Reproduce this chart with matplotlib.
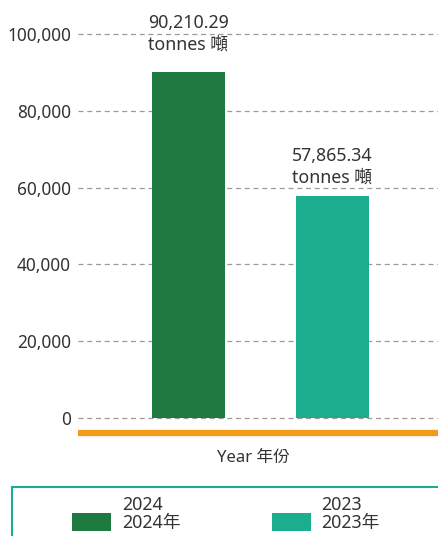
import matplotlib.pyplot as plt
from matplotlib.patches import Rectangle
from matplotlib.legend_handler import HandlerPatch
from matplotlib.ticker import FuncFormatter

plt.rcParams['font.family'] = ['Noto Sans', 'Noto Sans CJK TC', 'DejaVu Sans']
plt.rcParams['font.weight'] = 'light'

years = ["2024\n2024年", "2023\n2023年"]
values = [90210.29, 57865.34]
value_labels = ["90,210.29\ntonnes 噸", "57,865.34\ntonnes 噸"]
colors = ["#1E7A40", "#1AAE8E"]
yticks = [0, 20000, 40000, 60000, 80000, 100000]


def low_patch(legend, orig_handle, xdescent, ydescent, width, height, fontsize):
    # put the swatch next to the second label line
    return Rectangle((-xdescent, -ydescent - 5), width, height)


def main():
    fig = plt.figure(figsize=(4.38, 5.36), dpi=100)
    # axes: left 78px, y=0 at 418px, y=100000 at 34px
    ax = fig.add_axes([78 / 438, 1 - 418 / 536, 1.0, 384 / 536])

    x = list(range(len(values)))
    bars = ax.bar(x, values, width=0.507, color=colors, zorder=3)

    ax.set_xlim(-0.767, -0.767 + 438 / 144)
    ax.set_ylim(0, 100000)
    ax.set_yticks(yticks)
    ax.yaxis.set_major_formatter(FuncFormatter(lambda v, p: f"{v:,.0f}"))
    ax.tick_params(axis='y', length=0, pad=5, labelsize=12.4, labelcolor="#333333")
    ax.set_xticks([])
    ax.grid(axis='y', color="#9A9A9A", linestyle=(0, (4, 3)), linewidth=0.9, zorder=0)
    for gl in ax.get_ygridlines():
        gl.set_clip_on(False)

    for side in ["top", "right", "left"]:
        ax.spines[side].set_visible(False)
    ax.spines["bottom"].set_position(("outward", 11))
    ax.spines["bottom"].set_color("#F39C1A")
    ax.spines["bottom"].set_linewidth(4.5)
    ax.spines["bottom"].set_capstyle("butt")

    ax.set_xlabel("Year 年份", fontsize=12, color="#333333")
    ax.xaxis.set_label_coords((253 - 78) / 438, -40 / 384)
    ax.xaxis.label.set_va("center")

    offsets = [13, 6.5]
    for i, (v, lab) in enumerate(zip(values, value_labels)):
        ax.annotate(lab, xy=(i, v), xytext=(0, offsets[i]), textcoords="offset points",
                    ha="center", va="bottom", multialignment="center", fontsize=12.8,
                    color="#333333", linespacing=1.25, annotation_clip=False)

    fig.patches.append(Rectangle((12 / 438, -0.05), 1.2, (536 - 487) / 536 + 0.05,
                                 transform=fig.transFigure, fill=False,
                                 edgecolor="#1AAE8E", linewidth=1.5))
    leg = fig.legend(bars, years, loc="upper left", bbox_to_anchor=(72 / 438, 1 - 496 / 536),
                     ncol=2, frameon=False, fontsize=12.8, handlelength=2.2, handleheight=1.15,
                     columnspacing=5.15, handletextpad=0.6, labelspacing=0.2,
                     borderaxespad=0, borderpad=0, labelcolor="#333333",
                     handler_map={type(bars[0]): HandlerPatch(patch_func=low_patch)})
    for t in leg.get_texts():
        t.set_linespacing(1.0)

    fig.savefig("out.png", dpi=100)


main()
